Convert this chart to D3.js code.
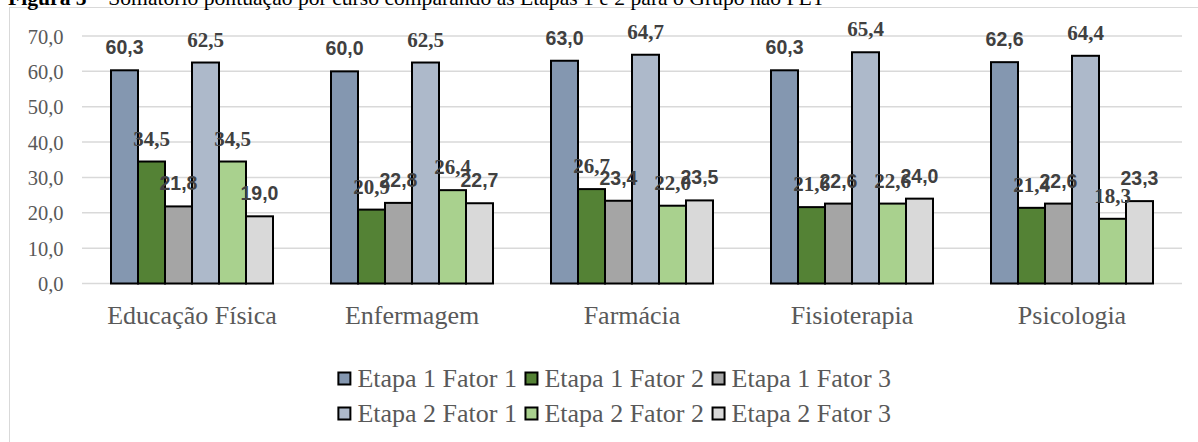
<!DOCTYPE html>
<html><head><meta charset="utf-8">
<script src="https://cdn.jsdelivr.net/npm/d3@7"></script>
<style>html,body{margin:0;padding:0;background:#fff;overflow:hidden}</style>
</head><body>
<svg id="chart" width="1198" height="442"></svg>
<script>
const categories = ["Educação Física", "Enfermagem", "Farmácia", "Fisioterapia", "Psicologia"];
const seriesNames = ["Etapa 1 Fator 1", "Etapa 1 Fator 2", "Etapa 1 Fator 3", "Etapa 2 Fator 1", "Etapa 2 Fator 2", "Etapa 2 Fator 3"];
const etapa1Fator1 = [60.3, 60.0, 63.0, 60.3, 62.6];
const etapa1Fator2 = [34.5, 20.9, 26.7, 21.6, 21.4];
const etapa1Fator3 = [21.8, 22.8, 23.4, 22.6, 22.6];
const etapa2Fator1 = [62.5, 62.5, 64.7, 65.4, 64.4];
const etapa2Fator2 = [34.5, 26.4, 22.0, 22.6, 18.3];
const etapa2Fator3 = [19.0, 22.7, 23.5, 24.0, 23.3];
const yTicks = [0, 10, 20, 30, 40, 50, 60, 70];
const titleBold = "Figura 5";
const titleRest = " – Somatório pontuação por curso comparando as Etapas 1 e 2 para o Grupo não PET";

(function () {
const seriesValues = [etapa1Fator1, etapa1Fator2, etapa1Fator3, etapa2Fator1, etapa2Fator2, etapa2Fator3];
const colors = ["#8497b0", "#548235", "#a5a5a5", "#adb9ca", "#a9d18e", "#d9d9d9"];
const serifLabel = [false, true, false, true, true, false];
const SERIF = "'Liberation Serif','Times New Roman',serif";
const SANS = "'Liberation Sans',Arial,sans-serif";

const svg = d3.select("#chart");
const fmt = v => d3.format(".1f")(v).replace(".", ",");

// chart border
svg.append("rect").attr("x", 9.5).attr("y", 7.5).attr("width", 1220).attr("height", 460)
  .attr("fill", "none").attr("stroke", "#d9d9d9").attr("stroke-width", 1);

// title
const title = svg.append("text").attr("x", 8).attr("y", 4.5)
  .attr("font-family", SERIF).attr("font-size", 21).attr("fill", "#000")
  .attr("textLength", 817).attr("lengthAdjust", "spacingAndGlyphs");
title.append("tspan").attr("font-weight", "bold").text(titleBold);
title.append("tspan").text(titleRest);

const pLeft = 82, pRight = 1182, pTop = 36, pBottom = 283.5;
const y = d3.scaleLinear().domain([0, 70]).range([pBottom, pTop]);
const x0 = d3.scaleBand().domain(categories).range([pLeft, pRight]).paddingInner(58/220).paddingOuter(29/220);
const x1 = d3.scaleBand().domain(d3.range(seriesNames.length)).range([0, x0.bandwidth()]);

// gridlines
svg.append("g").selectAll("line").data(yTicks).join("line")
  .attr("x1", pLeft).attr("x2", pRight).attr("y1", d => y(d)).attr("y2", d => y(d))
  .attr("stroke", "#d9d9d9").attr("stroke-width", 1.5);

// y axis labels
const yAxis = d3.axisLeft(y).tickValues(yTicks).tickFormat(fmt).tickSize(0).tickPadding(0);
const ya = svg.append("g").attr("transform", `translate(63.5,0)`).call(yAxis);
ya.select(".domain").remove();
ya.selectAll("text").attr("font-family", SERIF).attr("font-size", 20.5)
  .attr("fill", "#595959").attr("x", 0).attr("dy", 7);

// bars
const groups = svg.append("g").selectAll("g").data(categories).join("g")
  .attr("transform", d => `translate(${x0(d)},0)`);
groups.selectAll("rect").data((c, ci) => seriesValues.map((s, si) => ({si, v: s[ci]}))).join("rect")
  .attr("x", d => x1(d.si)).attr("width", x1.bandwidth())
  .attr("y", d => y(d.v)).attr("height", d => y(0) - y(d.v))
  .attr("fill", d => colors[d.si]).attr("stroke", "#000").attr("stroke-width", 2);

// data labels
groups.selectAll("text").data((c, ci) => seriesValues.map((s, si) => ({si, v: s[ci]}))).join("text")
  .attr("x", d => x1(d.si) + x1.bandwidth()/2).attr("y", d => y(d.v) - 16)
  .attr("text-anchor", "middle")
  .attr("font-family", d => serifLabel[d.si] ? SERIF : SANS)
  .attr("font-weight", "bold").attr("font-size", d => serifLabel[d.si] ? 21 : 19.5)
  .attr("fill", "#404040").text(d => fmt(d.v));

// category labels
const xAxis = d3.axisBottom(x0).tickSize(0).tickPadding(0);
const xa = svg.append("g").attr("transform", `translate(0,${pBottom})`).call(xAxis);
xa.select(".domain").remove();
xa.selectAll("text").attr("font-family", SERIF).attr("font-size", 26)
  .attr("fill", "#595959").attr("y", 40).attr("dy", null);

// legend
const rows = [[0, 1, 2], [3, 4, 5]];
const rowY = [378.5, 413.5];
const legendCenter = 614.5;
rows.forEach((row, ri) => {
  const g = svg.append("g");
  let cx = 0;
  row.forEach(si => {
    const item = g.append("g").attr("transform", `translate(${cx},0)`);
    item.append("rect").attr("x", 0.5).attr("y", -6).attr("width", 12).attr("height", 12)
      .attr("fill", colors[si]).attr("stroke", "#000").attr("stroke-width", 2);
    const t = item.append("text").attr("x", 19.5).attr("y", 8.5)
      .attr("font-family", SERIF).attr("font-size", 26)
      .attr("fill", "#595959").text(seriesNames[si]);
    const w = t.node().getComputedTextLength();
    cx += 19.5 + w + 8;
  });
  const total = cx - 8;
  g.attr("transform", `translate(${legendCenter - total/2},${rowY[ri]})`);
});
})();
</script>
</body></html>
